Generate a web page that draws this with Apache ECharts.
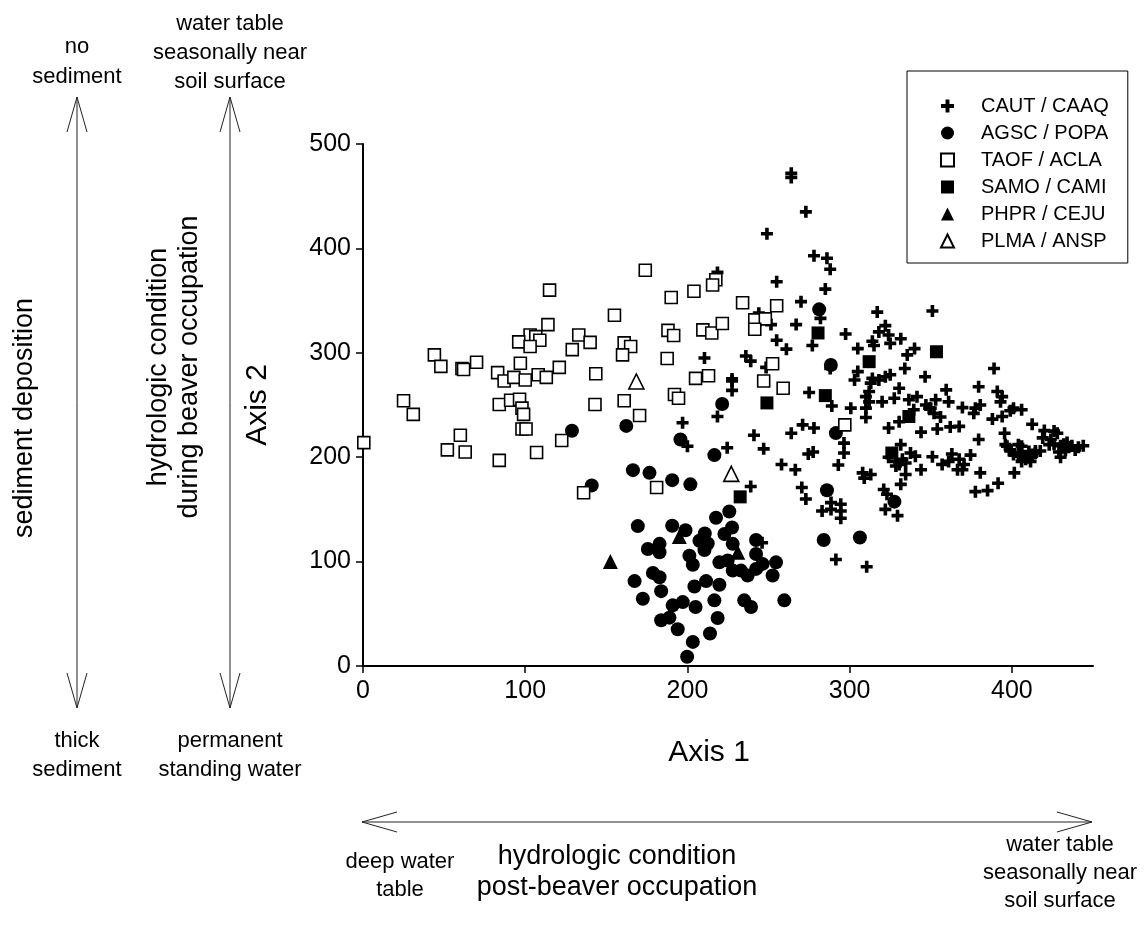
<!DOCTYPE html>
<html>
<head>
<meta charset="utf-8">
<script src="https://cdn.jsdelivr.net/npm/echarts@6/dist/echarts.min.js"></script>
<style>
  html, body { margin: 0; padding: 0; background: #fff; }
  #chart { width: 1144px; height: 928px; }
</style>
</head>
<body>
<div id="chart"></div>
<script>
// species groups, [axis1, axis2] ordination scores
const cautCaaq = [
  [264,472],[264,468],[273,435],[249,414],[255,368],[270,349],[267,327],[251.5,327],[244,338],[255,312],
  [261,303.5],[218.5,377],[210.5,295],[236,297],[239,292],[248.5,286],[227.5,275],
  [288,380],[285,361],[277,307],[227.5,273],[227.5,264],[218.5,239],[275,262],[289,249],[197,233],
  [241,221],[264,223],[271,231],[278,228],
  [200,210.5],[224.5,209],[247,208],[258,193],[266.5,188],[270.5,171],[273,160],[239,172],[246,118],[274.5,203],
  [278,393],[286,390.5],[282,333],[297.5,318],[317,339],[351,340],[322,326],[318,320],[314,311],[324,317],
  [331.5,313.5],[325,309],[315,307],[305,304],[340,304],
  [335.5,298],[288,285],[305,282],[303,274],[314,275.5],[318,274],[322,277],[325,279],[313,271],[334,285],
  [346.5,277],[330.5,266],[327.5,256.5],[312,263],[310,258],[312,253],[310,247],[310,238],[320,253],[300.7,247],
  [324,228],[330.5,234],[344,224],[336.5,255],[341.5,258],[339.5,245.5],[347,250],[350,247],[353,255],[352,242],
  [349,247],[359.5,264.5],[356,238.5],[354,227],[362,229],[367.5,229.5],[361,253],[369.5,247.5],[376.5,242],[377.5,247],
  [380.5,250],[379.5,267.5],[389,285],[391,263],[394,258],[393,253],[401,247],[406,245.5],[399,244.5],[388,236.5],
  [394,239],[412.5,231.5],[395.5,223],[379.5,217],
  [331.5,212],[337.5,204],[332.5,198],[330.5,193],[334.5,194.5],[340.5,201],[344,188],[334.5,183.5],[331.5,174],[324,200],
  [328.5,196],[328.5,191.5],[351,200.5],[357,193],[363,203],[367.5,198],[374.5,202],[370.5,193],[366.5,188],[369.5,188],
  [361,196],[380.5,185],[391.5,175],[377.5,167],[385,168],[401.5,185],[396,212],[399,207],[404,212],[406,204],
  [410.5,205.5],[412.5,201],[408.5,198],[414.5,204],[406,196],[308,185],[313,183.5],[309,180],[293,192.5],[277.5,205],
  [296.5,213.5],[296.5,204],[321,169],[323,164.5],[322,150],[329.5,144],[288.5,156.5],[294.5,155],[283,148.5],[288.5,150],
  [294.5,148.5],[294.5,141.5],[291.5,102],[310.5,95],
  [420,225.5],[426,225],[428,223],[419,218.5],[424,217],[423,212],[426,212.5],[430,211],[432,212.5],[434,214],
  [435,209.5],[437,211],[441,209.5],[444,211],[439,207],[433,206.5],[429,205],[430,200],[397,210.5],[399,206],
  [401,202.5],[406,210.5],[404,201],[409.5,199.5],[412.5,202.5],[411.5,196],[414.5,206],[417.5,206]
];

const agscPopa = [
  [128.8,225.4],[141,173],[162.3,230],[195.7,217],[221.4,251],[216.6,202],[166.4,187.6],[176.6,185],[190.6,178],[201.8,174],
  [225.8,148],[217.6,142],[169.4,134],[190.6,134.3],[198.8,130],[210.7,127],[207.4,120],[212.5,117.4],[210.5,111],[227.5,132.7],
  [222.8,126.4],[227.9,117],[242.3,120.7],[175.6,112],[182.8,117],[182.8,109],[201.2,105.7],[203.3,97],[219.7,99.3],[224.8,101],
  [227.9,91.4],[233,91.4],[237.1,86.7],[242.3,107.3],[246.3,97.8],[254.6,99.3],[252.5,86.7],[242.3,93],[167.4,81.3],[178.7,89.2],
  [182.8,85],[183.8,71.7],[172.5,64.4],[204.3,76.2],[211.5,81.3],[219.7,77.8],[216.6,62.9],[235,62.9],[239.2,56.5],[259.7,62.9],
  [190.9,58.1],[197.1,61.2],[205,56.5],[183.8,43.8],[188.9,46.3],[194,35.2],[218.6,46],[213.9,31.1],[203.3,23.1],[199.8,8.9],
  [281.2,341.6],[288.4,288.3],[291.5,223.1],[286,168.3],[327.6,157.4],[284,120.7],[306.3,123.1]
];

const taofAcla = [
  [115,360],[114,327],[103,317],[106.5,315.5],[109,312],[96,310.5],[103,306],[133,317],[140,310],[129,303],
  [44,298],[48,287],[61,285],[62,284],[70,291],[97,290],[83,281],[87,273],[93,276.5],[100,274],
  [108,279],[113,276.5],[121,286],[143.5,280],[25,254],[31,241],[84,250.5],[91,254.5],[96.5,255.5],[98,247],
  [99,241],[98,227],[100.5,227],[143,250.5],[0.5,214],[60,221],[52,207],[63,205],[84,197],[107,204.5],
  [122.5,216],[136,166],[174,379],[217.5,370],[215.5,365],[190,353],[204,359],[234,348],[255,345],[155,336],
  [161,309.5],[165,306],[160,298],[188,321.5],[191.5,316.5],[209.5,322],[215,319],[221.5,328],[187.5,294.5],[241.5,331.5],
  [248,332.5],[241.5,322.5],[252.5,289.5],[247,273],[205,275.5],[213,278],[259,266],[161,254],[170.5,240],[192,260],
  [194.5,256.5],[181,171],[297,231]
];

const samoCami = [[249,252],[232.5,162],[280.5,319],[312,291.5],[353.5,301],[285,259],[336.5,239],[326,204]];
const phprCeju = [[152.5,100],[195,124],[231,109]];
const plmaAnsp = [[168.5,272.5],[227,184]];

const xTicks = [0, 100, 200, 300, 400];
const crossPath = 'path://M3.5,0H6.5V3.5H10V6.5H6.5V10H3.5V6.5H0V3.5H3.5Z';
const FONT = 'Liberation Sans, Arial, sans-serif';

const chart = echarts.init(document.getElementById('chart'));

function txt(x, y, text, size, lh, rot) {
  return {
    type: 'text', x: x, y: y, rotation: rot || 0, silent: true,
    style: { text: text, x: 0, y: 0, align: 'center', verticalAlign: 'middle',
             fontFamily: FONT, fontSize: size, lineHeight: lh, fill: '#000' }
  };
}
function seg(pts) {
  return { type: 'polyline', silent: true, shape: { points: pts },
           style: { stroke: '#222', lineWidth: 1, fill: null } };
}
function vArrow(x, y1, y2) {
  return [seg([[x, y1], [x, y2]]), seg([[x - 10, y1 + 35], [x, y1], [x + 10, y1 + 35]]),
          seg([[x - 10, y2 - 35], [x, y2], [x + 10, y2 - 35]])];
}
function hArrow(y, x1, x2) {
  return [seg([[x1, y], [x2, y]]), seg([[x1 + 35, y - 10], [x1, y], [x1 + 35, y + 10]]),
          seg([[x2 - 35, y - 10], [x2, y], [x2 - 35, y + 10]])];
}

const graphics = [].concat(
  vArrow(77, 97, 708), vArrow(230, 97, 708), hArrow(822, 362, 1092),
  [
    txt(77, 62, 'no\nsediment', 22, 30),
    txt(230, 53, 'water table\nseasonally near\nsoil surface', 22, 29),
    txt(77, 755, 'thick\nsediment', 22, 29),
    txt(230, 755, 'permanent\nstanding water', 22, 29),
    txt(400, 876, 'deep water\ntable', 22, 28),
    txt(617, 872, 'hydrologic condition\npost-beaver occupation', 27, 31),
    txt(1060, 873, 'water table\nseasonally near\nsoil surface', 22, 28),
    txt(25, 418, 'sediment deposition', 27, 30, Math.PI / 2),
    txt(174, 367, 'hydrologic condition\nduring beaver occupation', 27, 31, Math.PI / 2)
  ]
);

const option = {
  backgroundColor: '#fff',
  animation: false,
  textStyle: { fontFamily: FONT, color: '#000' },
  grid: { left: 363, right: 51, top: 144, bottom: 262 },
  legend: {
    orient: 'vertical',
    left: 907, top: 71,
    padding: [25, 19, 12, 33],
    itemGap: 7,
    itemWidth: 13, itemHeight: 13,
    borderColor: '#000', borderWidth: 1,
    textStyle: { fontFamily: FONT, fontSize: 20, color: '#000', padding: [0, 0, 0, 22] },
    data: ['CAUT / CAAQ', 'AGSC / POPA', 'TAOF / ACLA', 'SAMO / CAMI', 'PHPR / CEJU', 'PLMA / ANSP']
  },
  xAxis: {
    type: 'value', min: 0, max: 450, interval: 100,
    name: 'Axis 1', nameLocation: 'middle', nameGap: 72,
    nameTextStyle: { fontFamily: FONT, fontSize: 30, color: '#000', padding: [0, 38, 0, 0] },
    axisLine: { show: true, lineStyle: { color: '#000', width: 2 } },
    axisTick: { show: true, length: 7, customValues: xTicks, lineStyle: { color: '#000', width: 1.5 } },
    axisLabel: { customValues: xTicks, fontFamily: FONT, fontSize: 25, color: '#000', margin: 13 },
    splitLine: { show: false }
  },
  yAxis: {
    type: 'value', min: 0, max: 500, interval: 100,
    name: 'Axis 2', nameLocation: 'middle', nameGap: 90,
    nameTextStyle: { fontFamily: FONT, fontSize: 30, color: '#000' },
    axisLine: { show: true, lineStyle: { color: '#000', width: 2 } },
    axisTick: { show: true, length: 7, lineStyle: { color: '#000', width: 1.5 } },
    axisLabel: { fontFamily: FONT, fontSize: 25, color: '#000', margin: 12 },
    splitLine: { show: false }
  },
  series: [
    { name: 'CAUT / CAAQ', type: 'scatter', data: cautCaaq, symbol: crossPath, symbolSize: 12, z: 2,
      itemStyle: { color: '#000', opacity: 1 } },
    { name: 'AGSC / POPA', type: 'scatter', data: agscPopa, symbol: 'circle', symbolSize: 14, z: 3,
      itemStyle: { color: '#000', opacity: 1 } },
    { name: 'PHPR / CEJU', type: 'scatter', data: phprCeju, symbol: 'triangle', symbolSize: 15, z: 2,
      itemStyle: { color: '#000', opacity: 1 } },
    { name: 'TAOF / ACLA', type: 'scatter', data: taofAcla, symbol: 'rect', symbolSize: 12, z: 4,
      itemStyle: { color: '#fff', borderColor: '#000', borderWidth: 1.6, opacity: 1 } },
    { name: 'SAMO / CAMI', type: 'scatter', data: samoCami, symbol: 'rect', symbolSize: 13, z: 5,
      itemStyle: { color: '#000', opacity: 1 } },
    { name: 'PLMA / ANSP', type: 'scatter', data: plmaAnsp, symbol: 'triangle', symbolSize: 15, z: 5,
      itemStyle: { color: '#fff', borderColor: '#000', borderWidth: 1.6, opacity: 1 } }
  ],
  graphic: graphics
};

chart.setOption(option);
</script>
</body>
</html>
